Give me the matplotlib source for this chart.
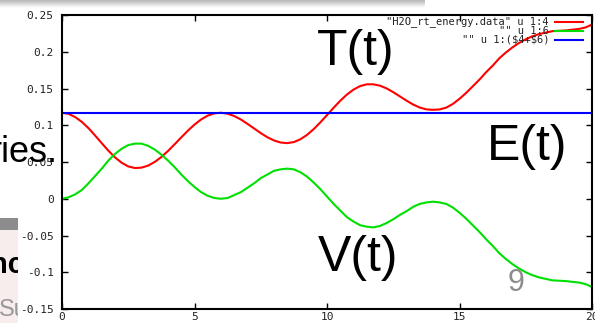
import numpy as np
import matplotlib.pyplot as plt
from matplotlib.patches import Rectangle
from matplotlib.transforms import Bbox, TransformedBbox

# ---------------------------------------------
# Dados (passo de 0.25)
# ---------------------------------------------
t = np.arange(0, 20.001, 0.25)

energia_cinetica = [
    0.117, 0.1155, 0.111, 0.1046, 0.096, 0.086, 0.0756, 0.0654, 0.0563, 0.049,
    0.044, 0.0418, 0.0423, 0.0451, 0.0501, 0.0568, 0.065, 0.0741, 0.0835, 0.0926,
    0.1009, 0.1079, 0.1131, 0.1162, 0.117, 0.1157, 0.1125, 0.1078, 0.1019, 0.0956,
    0.0893, 0.0837, 0.0793, 0.0765, 0.0757, 0.0771, 0.081, 0.087, 0.0948, 0.104,
    0.1138, 0.1238, 0.1333, 0.1417, 0.1485, 0.1533, 0.1557, 0.1557, 0.1538, 0.1501,
    0.145, 0.1393, 0.1335, 0.1282, 0.1241, 0.1216, 0.121, 0.1215, 0.124, 0.129,
    0.136, 0.144, 0.153, 0.162, 0.172, 0.181, 0.191, 0.199, 0.206, 0.212,
    0.217, 0.221, 0.224, 0.226, 0.228, 0.2285, 0.229, 0.230, 0.231, 0.233, 0.237]

energia_potencial = [
    0.000, 0.002, 0.006, 0.012, 0.021, 0.031, 0.041, 0.052, 0.061, 0.068,
    0.073, 0.075, 0.075, 0.072, 0.067, 0.060, 0.052, 0.043, 0.033, 0.024,
    0.016, 0.009, 0.004, 0.001, 0.000, 0.001, 0.005, 0.009, 0.015, 0.021,
    0.028, 0.033, 0.038, 0.040, 0.041, 0.040, 0.036, 0.030, 0.022, 0.013,
    0.003, -0.007, -0.016, -0.025, -0.031, -0.036, -0.038, -0.039, -0.037, -0.033,
    -0.028, -0.022, -0.017, -0.011, -0.007, -0.005, -0.004, -0.005, -0.007, -0.012,
    -0.019, -0.027, -0.036, -0.045, -0.055, -0.064, -0.074, -0.082, -0.089, -0.095,
    -0.100, -0.104, -0.107, -0.109, -0.111, -0.1115, -0.112, -0.113, -0.114, -0.116, -0.120]

energia_total = 0.117

legendas = ['"H2O_rt_energy.data" u 1:4', '"" u 1:6', '"" u 1:($4+$6)']
cores = ['#ff0000', '#00e000', '#0000ff']

xticks = [0, 5, 10, 15, 20]
yticks = [-0.15, -0.1, -0.05, 0, 0.05, 0.1, 0.15, 0.2, 0.25]

W, H = 595, 323


def px(x, y):
    # pixel -> fração da figura
    return x / W, 1 - y / H


# ---------------------------------------------
# Gráfico
# ---------------------------------------------
fig = plt.figure(figsize=(W / 100, H / 100), dpi=100)
ax = fig.add_axes([62 / W, 1 - 309 / H, 530 / W, 294 / H])

ax.plot(t, energia_cinetica, color=cores[0], lw=1.5)
ax.plot(t, energia_potencial, color=cores[1], lw=1.5)
ax.axhline(energia_total, color=cores[2], lw=1.5)

ax.set_xlim(0, 20)
ax.set_ylim(-0.15, 0.25)
ax.set_xticks(xticks)
ax.set_yticks(yticks)
ax.set_xticklabels([str(v) for v in xticks])
ax.set_yticklabels(['%g' % v for v in yticks])
ax.tick_params(direction='in', length=4, width=1, top=True, right=True,
               labelsize=8, labelcolor='#222222')
ax.tick_params(axis='y', pad=6)
ax.tick_params(axis='x', pad=2)
for lab in ax.get_xticklabels() + ax.get_yticklabels():
    lab.set_family('DejaVu Sans Mono')
for s in ax.spines.values():
    s.set_linewidth(1.5)

# legenda no estilo gnuplot
for i, (txt, c) in enumerate(zip(legendas, cores)):
    yy = 22 + i * 9
    fig.text(*px(549, yy), txt, ha='right', va='center', fontsize=7.5,
             family='DejaVu Sans Mono', color='#222222', parse_math=False)
    fig.add_artist(plt.Line2D([555 / W, 583 / W], [1 - yy / H, 1 - yy / H],
                              color=c, lw=1.5))

# textos do slide sobrepostos
fig.text(*px(356, 52), 'T(t)', ha='center', va='center', fontsize=36,
         family='Liberation Sans')
fig.text(*px(527, 147), 'E(t)', ha='center', va='center', fontsize=36,
         family='Liberation Sans')
fig.text(*px(358, 258), 'V(t)', ha='center', va='center', fontsize=36,
         family='Liberation Sans')
fig.text(*px(516, 283), '9', ha='center', va='center', fontsize=22,
         family='Liberation Sans', color='#8c8c8c')

fig.text(*px(57, 162), 'ries.', ha='right', va='baseline', fontsize=26,
         family='Liberation Sans')
fig.add_artist(Rectangle(px(0, 230), 18 / W, 12 / H, transform=fig.transFigure,
                         color='#8c8c8c', lw=0))
fig.add_artist(Rectangle(px(0, 323), 18 / W, 93 / H, transform=fig.transFigure,
                         color='#f8eded', lw=0))

# recorte da faixa lateral do slide
faixa = TransformedBbox(Bbox.from_extents(0, 0, 18 / W, 93 / H), fig.transFigure)
t1 = fig.text(*px(24, 273), 'nc', ha='right', va='baseline', fontsize=21,
              family='Liberation Sans', weight='bold')
t2 = fig.text(*px(-1, 316), 'Su', ha='left', va='baseline', fontsize=17,
              family='Liberation Sans', color='#999999')
for tx in (t1, t2):
    tx.set_clip_box(faixa)
    tx.set_clip_on(True)

# sombra no topo
sombra = fig.add_axes([0, 1 - 8 / H, 425 / W, 8 / H])
grad = np.linspace(0.72, 1.0, 16).reshape(-1, 1)
sombra.imshow(np.repeat(grad, 50, axis=1), cmap='gray', vmin=0, vmax=1,
              aspect='auto')
sombra.axis('off')

fig.savefig('out.png', dpi=100)
